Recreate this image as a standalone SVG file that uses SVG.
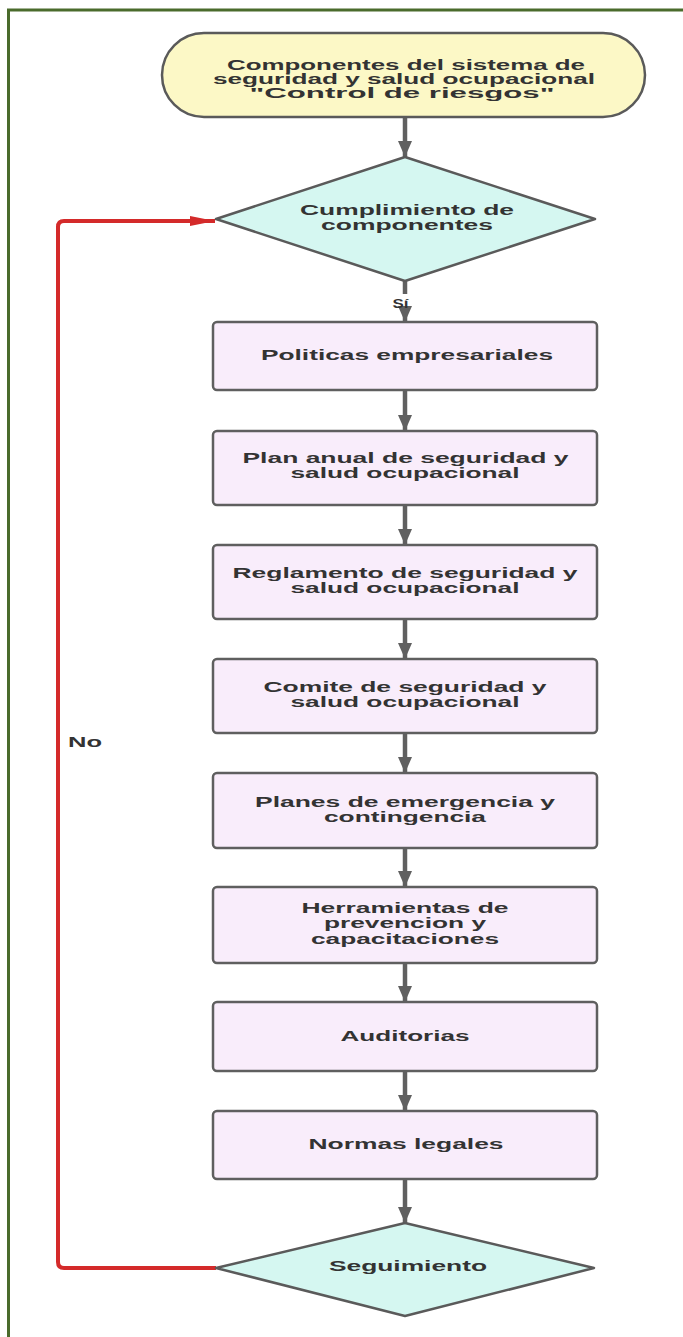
<svg xmlns="http://www.w3.org/2000/svg" width="683" height="1337" viewBox="0 0 683 1337">
<defs>
<style>
.t{font-family:"Liberation Sans",Arial,sans-serif;font-weight:bold;font-size:14px;fill:#333;text-anchor:middle}
.s{font-size:13px}
.term{fill:#fcf8c6;stroke:#5a5a5a;stroke-width:2.5}
.dec{fill:#d5f7f1;stroke:#5a5a5a;stroke-width:2.5;stroke-linejoin:round}
.box{fill:#f9edfb;stroke:#5f5f5f;stroke-width:2.5}
.con{stroke:#606060;stroke-width:4.5;fill:none}
.red{stroke:#d42a2a;stroke-width:4;fill:none;stroke-linejoin:round}
</style>
<marker id="ag" markerUnits="userSpaceOnUse" markerWidth="18" markerHeight="14" refX="16" refY="7" orient="auto">
<path d="M0,0 L16,7 L0,14 Z" fill="#606060"/>
</marker>
<marker id="ar" markerUnits="userSpaceOnUse" markerWidth="26" markerHeight="12" refX="25" refY="6" orient="auto">
<path d="M0,1 L25,6 L0,11 Z" fill="#d42a2a"/>
</marker>
</defs>
<rect width="683" height="1337" fill="#fff"/>
<g id="border" stroke="#4a6b2c" stroke-width="3" fill="none">
<line x1="7" y1="10" x2="683" y2="10"/>
<line x1="8.5" y1="9" x2="8.5" y2="1337"/>
</g>
<g id="connectors">
<line class="con" x1="405" y1="117" x2="405" y2="157" marker-end="url(#ag)"/>
<line class="con" x1="405" y1="281" x2="405" y2="294"/>
<line class="con" x1="405" y1="311" x2="405" y2="322" marker-end="url(#ag)"/>
<line class="con" x1="405" y1="390" x2="405" y2="431" marker-end="url(#ag)"/>
<line class="con" x1="405" y1="505" x2="405" y2="545" marker-end="url(#ag)"/>
<line class="con" x1="405" y1="619" x2="405" y2="659" marker-end="url(#ag)"/>
<line class="con" x1="405" y1="733" x2="405" y2="773" marker-end="url(#ag)"/>
<line class="con" x1="405" y1="848" x2="405" y2="887" marker-end="url(#ag)"/>
<line class="con" x1="405" y1="963" x2="405" y2="1002" marker-end="url(#ag)"/>
<line class="con" x1="405" y1="1071" x2="405" y2="1111" marker-end="url(#ag)"/>
<line class="con" x1="405" y1="1179" x2="405" y2="1223" marker-end="url(#ag)"/>
<path class="red" d="M216,1268 H64 Q58,1268 58,1262 V227 Q58,221 64,221 H215" marker-end="url(#ar)"/>
<text class="t s" x="400.5" y="307.5" textLength="16" lengthAdjust="spacingAndGlyphs">Sí</text>
<text class="t" x="85" y="747" textLength="34" lengthAdjust="spacingAndGlyphs">No</text>
</g>
<g id="start">
<rect class="term" x="162" y="33" width="483" height="84" rx="42" ry="42"/>
<text class="t" x="406" y="69.5" textLength="358" lengthAdjust="spacingAndGlyphs">Componentes del sistema de</text>
<text class="t" x="404" y="83.5" textLength="382" lengthAdjust="spacingAndGlyphs">seguridad y salud ocupacional</text>
<text class="t" x="402" y="97.5" textLength="305" lengthAdjust="spacingAndGlyphs">"Control de riesgos"</text>
</g>
<g id="cumplimiento">
<polygon class="dec" points="405,157 595,219 405,281 216,219"/>
<text class="t" x="407" y="214.5" textLength="214" lengthAdjust="spacingAndGlyphs">Cumplimiento de</text>
<text class="t" x="407" y="229.5" textLength="172" lengthAdjust="spacingAndGlyphs">componentes</text>
</g>
<g id="politicas">
<rect class="box" x="213" y="322" width="384" height="68" rx="4"/>
<text class="t" x="407" y="360" textLength="292" lengthAdjust="spacingAndGlyphs">Politicas empresariales</text>
</g>
<g id="plan">
<rect class="box" x="213" y="431" width="384" height="74" rx="4"/>
<text class="t" x="405.5" y="462.5" textLength="326" lengthAdjust="spacingAndGlyphs">Plan anual de seguridad y</text>
<text class="t" x="405" y="478" textLength="229" lengthAdjust="spacingAndGlyphs">salud ocupacional</text>
</g>
<g id="reglamento">
<rect class="box" x="213" y="545" width="384" height="74" rx="4"/>
<text class="t" x="405" y="577.5" textLength="345" lengthAdjust="spacingAndGlyphs">Reglamento de seguridad y</text>
<text class="t" x="405" y="592.5" textLength="229" lengthAdjust="spacingAndGlyphs">salud ocupacional</text>
</g>
<g id="comite">
<rect class="box" x="213" y="659" width="384" height="74" rx="4"/>
<text class="t" x="405" y="691.5" textLength="283" lengthAdjust="spacingAndGlyphs">Comite de seguridad y</text>
<text class="t" x="405" y="707" textLength="229" lengthAdjust="spacingAndGlyphs">salud ocupacional</text>
</g>
<g id="planes">
<rect class="box" x="213" y="773" width="384" height="75" rx="4"/>
<text class="t" x="405" y="806.5" textLength="300" lengthAdjust="spacingAndGlyphs">Planes de emergencia y</text>
<text class="t" x="405" y="822" textLength="162" lengthAdjust="spacingAndGlyphs">contingencia</text>
</g>
<g id="herramientas">
<rect class="box" x="213" y="887" width="384" height="76" rx="4"/>
<text class="t" x="405" y="912.5" textLength="207" lengthAdjust="spacingAndGlyphs">Herramientas de</text>
<text class="t" x="405" y="928" textLength="162" lengthAdjust="spacingAndGlyphs">prevencion y</text>
<text class="t" x="405" y="943.5" textLength="188" lengthAdjust="spacingAndGlyphs">capacitaciones</text>
</g>
<g id="auditorias">
<rect class="box" x="213" y="1002" width="384" height="69" rx="4"/>
<text class="t" x="405" y="1041" textLength="129" lengthAdjust="spacingAndGlyphs">Auditorias</text>
</g>
<g id="normas">
<rect class="box" x="213" y="1111" width="384" height="68" rx="4"/>
<text class="t" x="406" y="1149" textLength="195" lengthAdjust="spacingAndGlyphs">Normas legales</text>
</g>
<g id="seguimiento">
<polygon class="dec" points="405,1223 594,1268 405,1316 216,1268"/>
<text class="t" x="408" y="1271" textLength="158" lengthAdjust="spacingAndGlyphs">Seguimiento</text>
</g>
</svg>
